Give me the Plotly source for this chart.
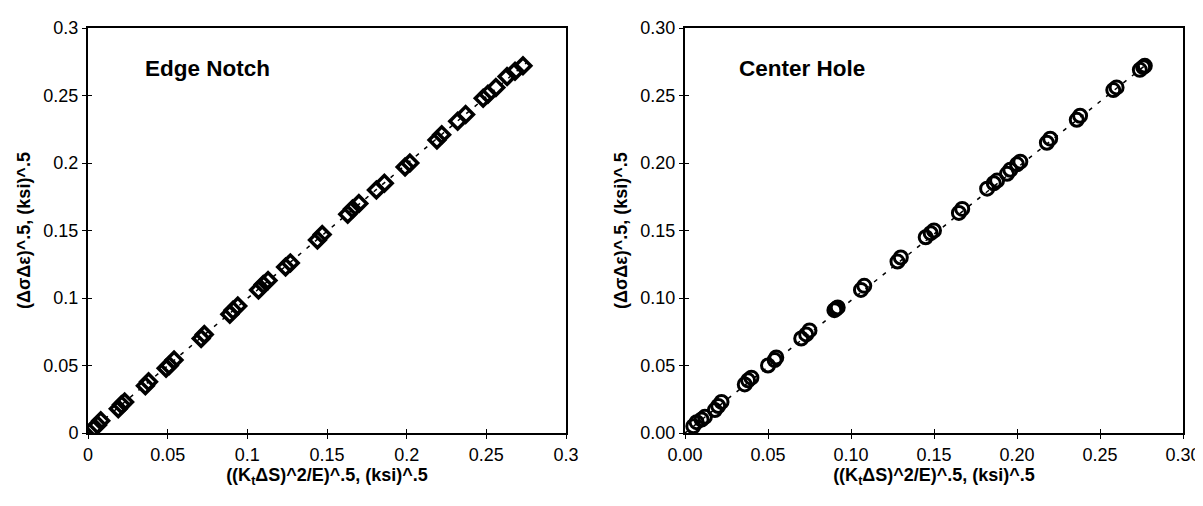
import plotly.graph_objects as go

# ---------------- data ----------------
edge_x = [0.004, 0.006, 0.008, 0.019, 0.021, 0.023, 0.036, 0.038, 0.049, 0.051, 0.054,
          0.071, 0.073, 0.089, 0.091, 0.094, 0.107, 0.110, 0.113, 0.124, 0.127,
          0.144, 0.147, 0.163, 0.166, 0.170, 0.181, 0.186, 0.199, 0.202, 0.219, 0.222,
          0.232, 0.237, 0.248, 0.251, 0.256, 0.263, 0.268, 0.273]
edge_y = [0.004, 0.006, 0.009, 0.018, 0.021, 0.023, 0.035, 0.038, 0.048, 0.050, 0.054,
          0.070, 0.073, 0.088, 0.091, 0.094, 0.106, 0.110, 0.113, 0.123, 0.126,
          0.143, 0.147, 0.162, 0.166, 0.170, 0.180, 0.185, 0.197, 0.200, 0.217, 0.221,
          0.231, 0.236, 0.248, 0.251, 0.256, 0.264, 0.268, 0.272]

hole_x = [0.005, 0.007, 0.010, 0.012, 0.018, 0.020, 0.022, 0.036, 0.038, 0.040,
          0.050, 0.054, 0.055, 0.070, 0.073, 0.075, 0.090, 0.091, 0.092, 0.106, 0.108,
          0.128, 0.130, 0.145, 0.148, 0.150, 0.165, 0.167, 0.182, 0.186, 0.188,
          0.194, 0.196, 0.200, 0.202, 0.218, 0.220, 0.236, 0.238, 0.258, 0.260,
          0.274, 0.276, 0.277]
hole_y = [0.005, 0.008, 0.010, 0.012, 0.017, 0.020, 0.023, 0.036, 0.039, 0.041,
          0.050, 0.054, 0.056, 0.070, 0.073, 0.076, 0.091, 0.092, 0.093, 0.106, 0.109,
          0.127, 0.130, 0.145, 0.148, 0.150, 0.163, 0.166, 0.181, 0.185, 0.187,
          0.192, 0.195, 0.199, 0.201, 0.215, 0.218, 0.232, 0.235, 0.254, 0.256,
          0.269, 0.271, 0.272]

edge_fit_x = [0.0, 0.275]
edge_fit_y = [0.0, 0.274]
hole_fit_x = [0.0, 0.28]
hole_fit_y = [0.0, 0.275]

left_ticks = [0, 0.05, 0.1, 0.15, 0.2, 0.25, 0.3]
left_ticktext = ["0", "0.05", "0.1", "0.15", "0.2", "0.25", "0.3"]
right_ticks = [0, 0.05, 0.1, 0.15, 0.2, 0.25, 0.3]
right_ticktext = ["0.00", "0.05", "0.10", "0.15", "0.20", "0.25", "0.30"]

x_title = "((K<sub>t</sub>ΔS)^2/E)^.5, (ksi)^.5"
y_title = "(ΔσΔε)^.5, (ksi)^.5"

# ---------------- layout geometry ----------------
W, H = 1203, 506
L_dom = [80 / W, 558 / W]
R_dom = [677 / W, 1175 / W]
Y_dom = [1 - 425 / H, 1 - 20 / H]

FONT = "Liberation Sans, Arial, sans-serif"

fig = go.Figure()

DASH = "4px,7px"

# Edge notch
fig.add_trace(go.Scatter(x=edge_fit_x, y=edge_fit_y, mode="lines",
                         line=dict(color="black", width=1.5, dash=DASH),
                         xaxis="x3", yaxis="y3", showlegend=False, hoverinfo="skip"))
fig.add_trace(go.Scatter(x=edge_x, y=edge_y, mode="markers",
                         marker=dict(symbol="diamond-open", size=12, color="black",
                                     line=dict(width=3.5, color="black")),
                         xaxis="x", yaxis="y", showlegend=False))
# Center hole
fig.add_trace(go.Scatter(x=hole_fit_x, y=hole_fit_y, mode="lines",
                         line=dict(color="black", width=1.5, dash=DASH),
                         xaxis="x4", yaxis="y4", showlegend=False, hoverinfo="skip"))
fig.add_trace(go.Scatter(x=hole_x, y=hole_y, mode="markers",
                         marker=dict(symbol="circle-open", size=13, color="black",
                                     line=dict(width=3, color="black")),
                         xaxis="x2", yaxis="y2", showlegend=False))

tickfont = dict(family=FONT, size=18, color="black")
titlefont = dict(family=FONT, size=18, color="black")

def main_axis(dom, ticks, ticktext, anchor, title, standoff):
    return dict(domain=dom, range=[0, 0.3], tickmode="array", tickvals=ticks,
                ticktext=ticktext, ticks="outside", ticklen=4, tickwidth=1.2,
                tickcolor="black", showline=True, linecolor="black", linewidth=2,
                mirror=True, showgrid=False, zeroline=False, anchor=anchor,
                tickfont=tickfont, automargin=False,
                title=dict(text="<b>" + title + "</b>", font=titlefont, standoff=standoff))

def overlay_axis(dom, ticks, anchor, overlaying):
    return dict(domain=dom, range=[0, 0.3], tickmode="array", tickvals=ticks,
                ticks="inside", ticklen=4, tickwidth=1.2, tickcolor="black",
                showticklabels=False, showline=False, showgrid=False, zeroline=False,
                anchor=anchor, overlaying=overlaying, automargin=False)

fig.update_layout(
    width=W, height=H,
    margin=dict(l=0, r=0, t=0, b=0),
    paper_bgcolor="white", plot_bgcolor="white",
    font=dict(family=FONT, color="black"),
    xaxis=main_axis(L_dom, left_ticks, left_ticktext, "y", x_title, 5),
    yaxis=main_axis(Y_dom, left_ticks, left_ticktext, "x", y_title, 8),
    xaxis2=main_axis(R_dom, right_ticks, right_ticktext, "y2", x_title, 5),
    yaxis2=main_axis(Y_dom, right_ticks, right_ticktext, "x2", y_title, 8),
    xaxis3=overlay_axis(L_dom, left_ticks, "y3", "x"),
    yaxis3=overlay_axis(Y_dom, left_ticks, "x3", "y"),
    xaxis4=overlay_axis(R_dom, right_ticks, "y4", "x2"),
    yaxis4=overlay_axis(Y_dom, right_ticks, "x4", "y2"),
    annotations=[
        dict(text="<b>Edge Notch</b>", x=135 / W, y=1 - 61 / H, xref="paper", yref="paper",
             xanchor="left", yanchor="middle", showarrow=False,
             font=dict(family=FONT, size=22.5, color="black")),
        dict(text="<b>Center Hole</b>", x=729 / W, y=1 - 61 / H, xref="paper", yref="paper",
             xanchor="left", yanchor="middle", showarrow=False,
             font=dict(family=FONT, size=22.5, color="black")),
    ],
)

fig.write_html("out.html")
